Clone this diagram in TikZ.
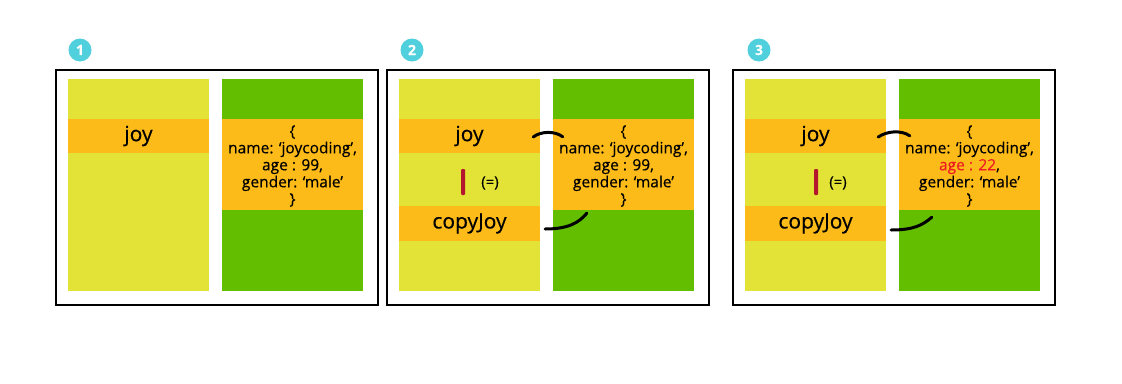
\documentclass[tikz,border=0pt]{standalone}
\usepackage{fontspec}
\setmainfont{Open Sans}[FakeBold=0.4]
\definecolor{colyellow}{RGB}{227,227,55}
\definecolor{colgreen}{RGB}{99,190,0}
\definecolor{colorange}{RGB}{253,187,25}
\definecolor{colcyan}{RGB}{80,208,220}
\definecolor{colbar}{RGB}{180,22,46}
\definecolor{colred}{RGB}{237,28,36}
\tikzset{
  column/.style={inner sep=0pt,minimum width=141pt,minimum height=212pt},
  ycol/.style={column,fill=colyellow},
  gcol/.style={column,fill=colgreen},
  band/.style={inner sep=0pt,minimum width=141pt,minimum height=34pt,fill=colorange,font=\fontsize{21}{24}\selectfont},
  objbox/.style={inner sep=0pt,minimum width=141pt,minimum height=91pt,fill=colorange},
  objtext/.style={align=center,font=\fontsize{15.5}{17}\selectfont,inner sep=0pt},
  badge/.style={circle,fill=colcyan,inner sep=0pt,minimum size=23pt,text=white,font=\fontsize{14}{14}\selectfont\bfseries},
  eqbar/.style={fill=colbar,inner sep=0pt,minimum width=4pt,minimum height=26pt,rounded corners=1pt},
  eqtext/.style={font=\fontsize{15}{15}\selectfont,inner sep=0pt},
  panelframe/.style={draw=black,line width=1.4pt,inner sep=0pt,minimum width=322pt,minimum height=235pt},
  link/.style={draw=black,line width=3pt,line cap=round}
}
\begin{document}
\begin{tikzpicture}[x=1pt,y=-1pt]
\useasboundingbox (0,0) rectangle (1122,383);
% ---------- panel 1 ----------
\node[badge] (b1) at (80,50) {1};
\node[panelframe] (F1) at (217,187.5) {};
\node[ycol] (Y1) at (138.5,185) {};
\node[gcol] (G1) at (292.5,185) {};
\node[band] (J1) at (138.5,136) {joy};
\node[objbox] (O1) at (292.5,164.5) {};
\node[objtext] (T1) at (292.5,166) {\{\\name: ‘joycoding’,\\age : 99,\\gender: ‘male’\\\}};
% ---------- panel 2 ----------
\node[badge] (b2) at (412,50) {2};
\node[panelframe] (F2) at (548,187.5) {};
\node[ycol] (Y2) at (469.5,185) {};
\node[gcol] (G2) at (623.5,185) {};
\node[band] (J2) at (469.5,136) {joy};
\node[band,minimum height=35pt] (C2) at (469.5,223.5) {copyJoy};
\node[objbox] (O2) at (623.5,164.5) {};
\node[objtext] (T2) at (623.5,166) {\{\\name: ‘joycoding’,\\age : 99,\\gender: ‘male’\\\}};
\node[eqbar] (E2) at (463,182) {};
\node[eqtext] (Q2) at (490,183) {(=)};
\draw[link] ([xshift=-7pt,yshift=-1pt]J2.east) .. controls +(8,-6) and +(-8,-6) .. ([xshift=10pt,yshift=-18pt]O2.north west);
\draw[link] ([xshift=5pt,yshift=-5.5pt]C2.east) .. controls +(22,0) and +(-8,10) .. ([xshift=34pt,yshift=-3pt]O2.south west);
% ---------- panel 3 ----------
\node[badge] (b3) at (759,50) {3};
\node[panelframe] (F3) at (894,187.5) {};
\node[ycol] (Y3) at (815.5,185) {};
\node[gcol] (G3) at (969.5,185) {};
\node[band] (J3) at (815.5,136) {joy};
\node[band,minimum height=35pt] (C3) at (815.5,223.5) {copyJoy};
\node[objbox] (O3) at (969.5,164.5) {};
\node[objtext] (T3) at (969.5,166) {\{\\name: ‘joycoding’,\\{\color{colred}age : 22},\\gender: ‘male’\\\}};
\node[eqbar] (E3) at (816,182) {};
\node[eqtext] (Q3) at (838,183) {(=)};
\draw[link] ([xshift=-8pt,yshift=-1pt]J3.east) .. controls +(9,-6) and +(-9,-6) .. ([xshift=11pt,yshift=-17pt]O3.north west);
\draw[link] ([xshift=5pt,yshift=-6.5pt]C3.east) .. controls +(22,0) and +(-9,8) .. ([xshift=33pt,yshift=-7pt]O3.south west);
\end{tikzpicture}
\end{document}
